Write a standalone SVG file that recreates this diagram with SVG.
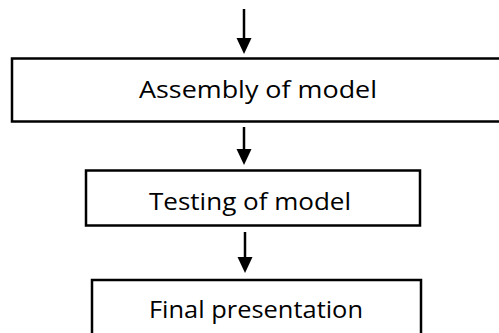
<svg xmlns="http://www.w3.org/2000/svg" width="499" height="333" viewBox="0 0 499 333">
<defs>
<style>
.box{fill:#fff;stroke:#000;stroke-width:2.5}
.lbl{font-family:"Open Sans","Liberation Sans",sans-serif;font-size:24.5px;fill:#000}
.con{stroke:#000;stroke-width:2.5;fill:none}
.head{fill:#000;stroke:none}
</style>
</defs>
<rect width="499" height="333" fill="#fff"/>
<g id="n1">
<rect class="box" x="12" y="58.5" width="500" height="63"/>
<text class="lbl" x="139" y="98" textLength="238" lengthAdjust="spacingAndGlyphs">Assembly of model</text>
</g>
<g id="n2">
<rect class="box" x="86" y="170.5" width="334" height="55"/>
<text class="lbl" x="149" y="210" textLength="202" lengthAdjust="spacingAndGlyphs">Testing of model</text>
</g>
<g id="n3">
<rect class="box" x="92" y="280" width="329" height="60"/>
<text class="lbl" x="149" y="318" textLength="214" lengthAdjust="spacingAndGlyphs">Final presentation</text>
</g>
<g id="connectors">
<line class="con" x1="244" y1="9" x2="244" y2="38"/>
<polygon class="head" points="236.5,38 251.5,38 244,54"/>
<line class="con" x1="244" y1="127" x2="244" y2="149"/>
<polygon class="head" points="236.5,149 251.5,149 244,165"/>
<line class="con" x1="245" y1="232" x2="245" y2="257"/>
<polygon class="head" points="237.5,257 252.5,257 245,273"/>
</g>
</svg>
